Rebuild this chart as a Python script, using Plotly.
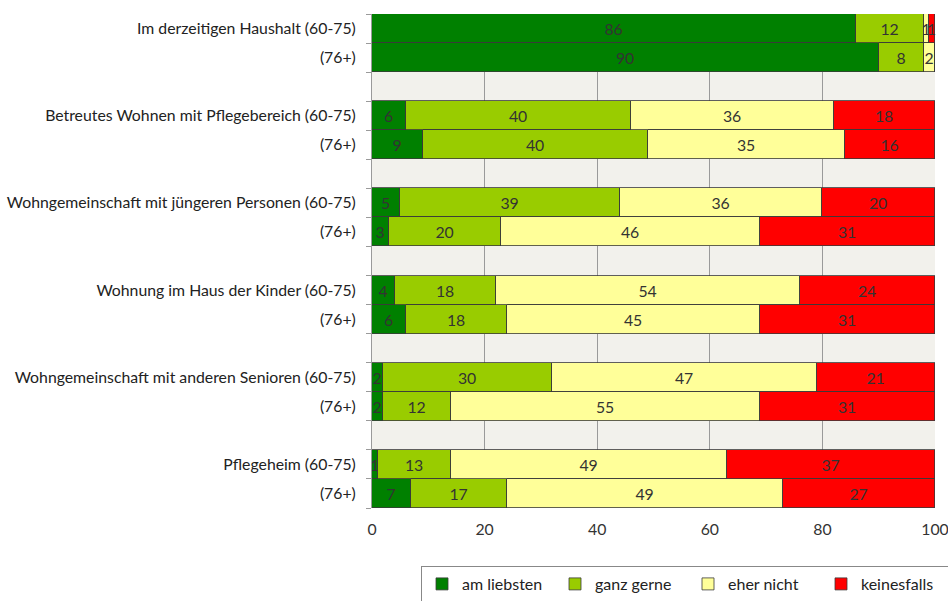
import plotly.graph_objects as go

groups = ["Im derzeitigen Haushalt", "Betreutes Wohnen mit Pflegebereich",
          "Wohngemeinschaft mit jüngeren Personen", "Wohnung im Haus der Kinder",
          "Wohngemeinschaft mit anderen Senioren", "Pflegeheim"]
age_a = "(60-75)"
age_b = "(76+)"

series_names = ["am liebsten", "ganz gerne", "eher nicht", "keinesfalls"]
colors = ["#008000", "#99cc00", "#ffff99", "#ff0000"]

# values per group: [60-75, 76+]
am_liebsten = [[86, 90], [6, 9], [5, 3], [4, 6], [2, 2], [1, 7]]
ganz_gerne = [[12, 8], [40, 40], [39, 20], [18, 18], [30, 12], [13, 17]]
eher_nicht = [[1, 2], [36, 35], [36, 46], [54, 45], [47, 55], [49, 49]]
keinesfalls = [[1, 0], [18, 16], [20, 31], [24, 31], [21, 31], [37, 27]]

x_ticks = [0, 20, 40, 60, 80, 100]

all_series = [am_liebsten, ganz_gerne, eher_nicht, keinesfalls]

positions = []
labels = []
for g, name in enumerate(groups):
    positions.append(3 * g)
    labels.append(f"{name} {age_a}")
    positions.append(3 * g + 1)
    labels.append(age_b)
n_rows = 3 * len(groups) - 1

FONT = "Lato, Open Sans, sans-serif"

fig = go.Figure()
for sname, col, data in zip(series_names, colors, all_series):
    vals = [v for pair in data for v in pair]
    fig.add_trace(go.Bar(
        x=vals, y=positions, orientation="h", name=sname,
        marker=dict(color=col, line=dict(color="#3a3a3a", width=0.8)),
        text=[str(v) if v > 0 else "" for v in vals],
        textposition="inside", insidetextanchor="middle",
        textfont=dict(family=FONT, size=15.8, color="#333333"),
        cliponaxis=False, hoverinfo="skip",
    ))

fig.update_layout(
    barmode="stack", bargap=0,
    width=948, height=601,
    margin=dict(l=372, r=13, t=14, b=93, autoexpand=False),
    paper_bgcolor="white", plot_bgcolor="#f2f1ec",
    uniformtext=dict(minsize=15.8, mode="show"),
    font=dict(family=FONT, size=15.8, color="#222222"),
    legend=dict(orientation="h", x=(421 - 372) / 563, y=-(566 - 508) / 494,
                xanchor="left", yanchor="top",
                bordercolor="#888888", borderwidth=1, font=dict(size=16, color="#222222"),
                traceorder="normal", itemwidth=30, entrywidth=88, entrywidthmode="pixels"),
    showlegend=True,
)
fig.update_xaxes(range=[0, 100], tickvals=x_ticks, showgrid=True, gridcolor="#9a9a9a",
                 gridwidth=1, zeroline=False, showline=False, ticks="", automargin=False,
                 ticklabeloverflow="allow", ticklabelstandoff=10,
                 tickfont=dict(size=15.8, color="#333333"))
fig.update_yaxes(range=[n_rows - 0.5, -0.5], tickmode="array", tickvals=positions,
                 ticktext=labels, showgrid=False, zeroline=False, automargin=False,
                 showline=True, linecolor="#9a9a9a", linewidth=1, ticks="", ticklabelstandoff=12,
                 minor=dict(tickmode="array", tickvals=[i - 0.5 for i in range(n_rows + 1)],
                            ticks="outside", ticklen=5, tickcolor="#9a9a9a", showgrid=False),
                 tickfont=dict(size=15.8, color="#222222"))

fig.write_html("out.html", config={"displayModeBar": False},
               post_script="document.body.style.margin='0';document.body.style.overflow='hidden';")
